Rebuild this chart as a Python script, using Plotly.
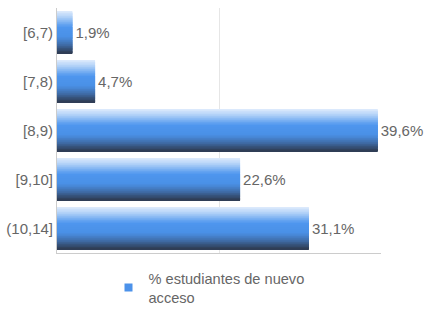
import numpy as np
import plotly.graph_objects as go

categories = ["[6,7)", "[7,8)", "[8,9)", "[9,10]", "(10,14]"]
values = [1.9, 4.7, 39.6, 22.6, 31.1]
labels = ["1,9%", "4,7%", "39,6%", "22,6%", "31,1%"]
series_name = "% estudiantes de nuevo<br>acceso"

FONT = "Liberation Sans, Arial, sans-serif"
GRAY = "#666666"
BAR_W = 0.84
N = 60

stops = [
    (0.00, (222, 235, 252)),
    (0.15, (170, 205, 247)),
    (0.38, (78, 150, 238)),
    (0.62, (74, 144, 230)),
    (0.82, (62, 106, 164)),
    (1.00, (46, 59, 82)),
]

def color_at(t):
    ts = [s[0] for s in stops]
    rgb = [int(round(np.interp(t, ts, [s[1][k] for s in stops]))) for k in range(3)]
    return "rgb({},{},{})".format(*rgb)

fig = go.Figure()
w = BAR_W / N
for i in range(N):
    t = (i + 0.5) / N
    width = w * 2.0 if i < N - 1 else w
    fig.add_trace(go.Bar(
        x=values, y=categories, orientation="h",
        width=width, offset=-BAR_W / 2 + i * w,
        marker=dict(color=color_at(t), line=dict(width=0)),
        showlegend=False, hoverinfo="skip",
    ))

fig.add_trace(go.Bar(
    x=values, y=categories, orientation="h",
    width=BAR_W, offset=-BAR_W / 2,
    marker=dict(color="rgba(0,0,0,0)", line=dict(width=0)),
    text=labels, textposition="outside", cliponaxis=False,
    textfont=dict(family=FONT, size=15, color=GRAY),
    showlegend=False, hoverinfo="skip",
))

# legend entry
fig.add_trace(go.Scatter(
    x=[None], y=[None], mode="markers", name=series_name,
    marker=dict(symbol="square", size=8, color="rgb(76,146,234)"),
    showlegend=True, hoverinfo="skip",
))

fig.update_layout(
    width=432, height=324,
    margin=dict(l=57, r=51, t=8, b=71),
    barmode="overlay",
    plot_bgcolor="white", paper_bgcolor="white",
    font=dict(family=FONT, size=15, color=GRAY),
    showlegend=True,
    legend=dict(orientation="h", x=0.5 - 10 / 324, xanchor="center", y=-0.037, yanchor="top",
                font=dict(family=FONT, size=14.6, color=GRAY)),
    xaxis=dict(range=[0, 40], dtick=20, showticklabels=False, showgrid=True,
               gridcolor="#e6e6e6", zeroline=False, showline=True,
               linecolor="#cccccc", ticks="", automargin=False),
    yaxis=dict(autorange="reversed", showline=True, linecolor="#cccccc",
               ticks="", showgrid=False, automargin=False,
               tickfont=dict(family=FONT, size=15, color=GRAY)),
)

fig.write_html("out.html")
